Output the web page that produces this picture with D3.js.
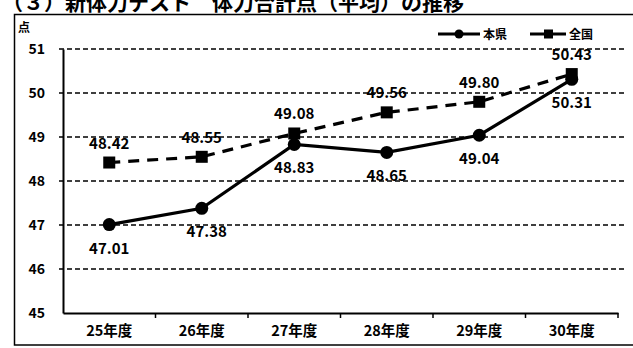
<!DOCTYPE html>
<html>
<head>
<meta charset="utf-8">
<script src="https://cdn.jsdelivr.net/npm/d3@7/dist/d3.min.js"></script>
<style>
  html, body { margin: 0; padding: 0; background: #fff; }
  svg { display: block; font-family: "Noto Sans CJK JP", "Noto Sans", sans-serif; }
</style>
</head>
<body>
<svg id="chart" width="633" height="348"></svg>
<script>
// Fiscal years on the x axis
const years = ["25年度", "26年度", "27年度", "28年度", "29年度", "30年度"];
// Prefecture average and national average
const prefValues = [47.01, 47.38, 48.83, 48.65, 49.04, 50.31];
const nationValues = [48.42, 48.55, 49.08, 49.56, 49.80, 50.43];
const seriesNames = ["本県", "全国"];
const yTicks = [45, 46, 47, 48, 49, 50, 51];
const titleText = "（３）新体力テスト　体力合計点（平均）の推移";

const svg = d3.select("#chart");
const plot = { left: 63, right: 618, top: 49, bottom: 313 };

const x = d3.scaleBand().domain(years).range([plot.left, plot.right]);
const y = d3.scaleLinear().domain([45, 51]).range([plot.bottom, plot.top]);
const cx = d => x(d) + x.bandwidth() / 2;

// Title, running off the top edge of the page
svg.append("text")
  .attr("x", 2).attr("y", 10)
  .attr("font-size", 21).attr("font-weight", "bold")
  .text(titleText);

// Outer frame
svg.append("rect")
  .attr("x", 14.5).attr("y", 14.5)
  .attr("width", 640).attr("height", 330.5)
  .attr("fill", "none").attr("stroke", "#000").attr("stroke-width", 1.5);

// Unit label
svg.append("text")
  .attr("x", 18).attr("y", 32)
  .attr("font-size", 12).attr("font-weight", "bold")
  .text("点");

// Dashed gridlines
svg.append("g")
  .selectAll("line")
  .data(yTicks.filter(t => t > 45))
  .join("line")
  .attr("x1", plot.left - 4).attr("x2", plot.right + 6)
  .attr("y1", d => y(d)).attr("y2", d => y(d))
  .attr("stroke", "#000").attr("stroke-width", 1.7)
  .attr("stroke-dasharray", "5,3");

// Y axis
const yAxis = svg.append("g")
  .attr("transform", `translate(${plot.left},0)`)
  .call(d3.axisLeft(y).tickValues(yTicks).tickSize(0).tickPadding(18).tickFormat(d3.format("d")));
yAxis.select(".domain").attr("stroke", "#000").attr("stroke-width", 2);
yAxis.selectAll("text").attr("font-size", 14).attr("font-weight", "bold")
  .attr("fill", "#000").attr("font-family", "'Noto Sans CJK JP', sans-serif");

// X axis
const xAxis = svg.append("g")
  .attr("transform", `translate(0,${plot.bottom})`)
  .call(d3.axisBottom(x).tickSize(0).tickPadding(13));
xAxis.select(".domain").attr("stroke", "#000").attr("stroke-width", 2);
xAxis.selectAll("text").attr("font-size", 14.5).attr("font-weight", "bold")
  .attr("fill", "#000").attr("font-family", "'Noto Sans CJK JP', sans-serif");
// Tick marks at category boundaries
svg.append("g")
  .selectAll("line")
  .data(years)
  .join("line")
  .attr("x1", (d, i) => plot.left + x.step() * (i + 1))
  .attr("x2", (d, i) => plot.left + x.step() * (i + 1))
  .attr("y1", plot.bottom).attr("y2", plot.bottom + 5)
  .attr("stroke", "#000").attr("stroke-width", 1.5);

const line = d3.line().x((d, i) => cx(years[i])).y(d => y(d));

// National average: dashed line with squares
svg.append("path")
  .datum(nationValues)
  .attr("d", line)
  .attr("fill", "none").attr("stroke", "#000")
  .attr("stroke-width", 3.2).attr("stroke-dasharray", "11,8");
svg.append("g")
  .selectAll("rect")
  .data(nationValues)
  .join("rect")
  .attr("x", (d, i) => cx(years[i]) - 6)
  .attr("y", d => y(d) - 6)
  .attr("width", 12).attr("height", 12)
  .attr("fill", "#000");

// Prefecture: solid line with circles
svg.append("path")
  .datum(prefValues)
  .attr("d", line)
  .attr("fill", "none").attr("stroke", "#000").attr("stroke-width", 3.2);
svg.append("g")
  .selectAll("circle")
  .data(prefValues)
  .join("circle")
  .attr("cx", (d, i) => cx(years[i]))
  .attr("cy", d => y(d))
  .attr("r", 6.5)
  .attr("fill", "#000");

// Value labels
const fmt = d3.format(".2f");
svg.append("g")
  .selectAll("text")
  .data(nationValues)
  .join("text")
  .attr("x", (d, i) => cx(years[i]))
  .attr("y", d => y(d) - 14)
  .attr("text-anchor", "middle")
  .attr("font-size", 15).attr("font-weight", "bold")
  .text(d => fmt(d));
svg.append("g")
  .selectAll("text")
  .data(prefValues)
  .join("text")
  .attr("x", (d, i) => cx(years[i]) + (i === 1 ? 5 : 0))
  .attr("y", d => y(d) + 29)
  .attr("text-anchor", "middle")
  .attr("font-size", 15).attr("font-weight", "bold")
  .text(d => fmt(d));

// Legend
const legend = svg.append("g").attr("transform", "translate(438,34)");
legend.append("line").attr("x1", 0).attr("x2", 42).attr("y1", 0).attr("y2", 0)
  .attr("stroke", "#000").attr("stroke-width", 3);
legend.append("circle").attr("cx", 21).attr("cy", 0).attr("r", 4.5).attr("fill", "#000");
legend.append("text").attr("x", 45).attr("y", 4.5)
  .attr("font-size", 12).attr("font-weight", "bold").text(seriesNames[0]);
legend.append("line").attr("x1", 92).attr("x2", 128).attr("y1", 0).attr("y2", 0)
  .attr("stroke", "#000").attr("stroke-width", 3);
legend.append("rect").attr("x", 106).attr("y", -4.5).attr("width", 9).attr("height", 9).attr("fill", "#000");
legend.append("text").attr("x", 131).attr("y", 4.5)
  .attr("font-size", 12).attr("font-weight", "bold").text(seriesNames[1]);
</script>
</body>
</html>
